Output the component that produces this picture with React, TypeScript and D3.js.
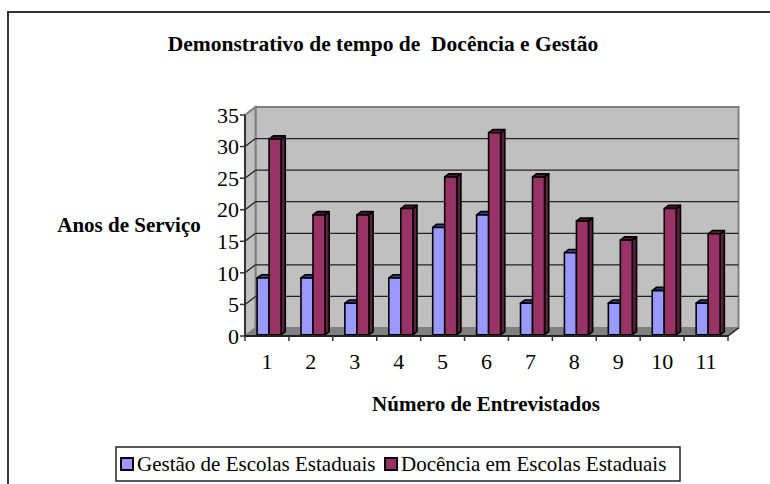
import React from "react";
import * as d3 from "d3";

const categories = ["1", "2", "3", "4", "5", "6", "7", "8", "9", "10", "11"];
const gestao = [9, 9, 5, 9, 17, 19, 5, 13, 5, 7, 5];
const docencia = [31, 19, 19, 20, 25, 32, 25, 18, 15, 20, 16];
const yTicks = [0, 5, 10, 15, 20, 25, 30, 35];
const seriesNames = ["Gestão de Escolas Estaduais", "Docência em Escolas Estaduais"];
const seriesColors = ["#9999FF", "#993366"];
const sideColors = ["#5c5c99", "#5c1f3d"];
const topColors = ["#404080", "#4d1a33"];

const FONT = "Liberation Serif, Times New Roman, serif";

export default function App() {
  const W = 770, H = 484;
  const x0 = 245, x1 = 728, yBottom = 336, yTop = 115;
  const DX = 10.5, DY = -8;
  const fFront = 0.15, fBack = 0.55;
  const ts = { fontFamily: FONT };

  const x = d3.scaleBand<string>().domain(categories).range([x0, x1]);
  const y = d3.scaleLinear().domain([0, 35]).range([yBottom, yTop]);
  const inner = d3.scaleBand<string>().domain(seriesNames).range([10.5, 34.5]);
  const values = [gestao, docencia];

  const bdx = (fBack - fFront) * DX, bdy = (fBack - fFront) * DY;
  const fx = fFront * DX, fy = fFront * DY;

  const bars: any[] = [];
  categories.forEach((c, i) => {
    seriesNames.forEach((s, k) => {
      const v = values[k][i];
      const bx = (x(c) as number) + (inner(s) as number) + fx;
      const bw = inner.bandwidth();
      const top = y(v) + fy;
      const bot = y(0) + fy;
      bars.push(
        <g key={`${i}-${k}`} stroke="#000" strokeWidth={1.6} strokeLinejoin="round">
          <polygon
            points={`${bx + bw},${top} ${bx + bw + bdx},${top + bdy} ${bx + bw + bdx},${bot + bdy} ${bx + bw},${bot}`}
            fill={sideColors[k]}
          />
          <polygon
            points={`${bx},${top} ${bx + bw},${top} ${bx + bw + bdx},${top + bdy} ${bx + bdx},${top + bdy}`}
            fill={topColors[k]}
          />
          <rect x={bx} y={top} width={bw} height={bot - top} fill={seriesColors[k]} />
        </g>
      );
    });
  });

  return (
    <svg width={W} height={H} style={{ position: "absolute", left: 0, top: 0, background: "#fff" }}>
      <path d={`M8,484 L8,12 L770,12`} fill="none" stroke="#333" strokeWidth={2} />
      <text x={383} y={51} textAnchor="middle" fontSize={21.5} fontWeight="bold" style={ts} xmlSpace="preserve">
        {"Demonstrativo de tempo de  Docência e Gestão"}
      </text>

      <rect x={x0 + DX} y={yTop + DY} width={x1 - x0} height={yBottom - yTop} fill="#C0C0C0" stroke="#808080" strokeWidth={2} />
      <polygon
        points={`${x0},${yTop} ${x0 + DX},${yTop + DY} ${x0 + DX},${yBottom + DY} ${x0},${yBottom}`}
        fill="#C0C0C0" stroke="#808080" strokeWidth={2}
      />
      <polygon
        points={`${x0},${yBottom} ${x1},${yBottom} ${x1 + DX},${yBottom + DY} ${x0 + DX},${yBottom + DY}`}
        fill="#808080" stroke="#808080" strokeWidth={1}
      />
      {yTicks.filter(t => t > 0 && t < 35).map(t => (
        <g key={t} stroke="#222" strokeWidth={1.3}>
          <line x1={x0 + DX} x2={x1 + DX} y1={y(t) + DY} y2={y(t) + DY} />
          <line x1={x0} x2={x0 + DX} y1={y(t)} y2={y(t) + DY} />
        </g>
      ))}

      {bars}

      <line x1={x0} x2={x0} y1={yTop} y2={yBottom} stroke="#333" strokeWidth={2} />
      {yTicks.map(t => (
        <g key={t}>
          <line x1={x0 - 5} x2={x0} y1={y(t)} y2={y(t)} stroke="#333" strokeWidth={1.5} />
          <text x={x0 - 6} y={y(t)} dy="0.35em" textAnchor="end" fontSize={22} style={ts}>{t}</text>
        </g>
      ))}
      <line x1={x0} x2={x1} y1={yBottom} y2={yBottom} stroke="#222" strokeWidth={2} />
      <line x1={x1} x2={x1 + DX} y1={yBottom} y2={yBottom + DY} stroke="#222" strokeWidth={1.5} />
      {categories.map((c) => (
        <g key={c}>
          <line x1={x(c) as number} x2={x(c) as number} y1={yBottom} y2={yBottom + 5} stroke="#333" strokeWidth={1.5} />
          <text x={(x(c) as number) + x.bandwidth() / 2} y={369} textAnchor="middle" fontSize={22} style={ts}>{c}</text>
        </g>
      ))}
      <line x1={x1} x2={x1} y1={yBottom} y2={yBottom + 5} stroke="#333" strokeWidth={1.5} />

      <text x={129} y={232} textAnchor="middle" fontSize={21} fontWeight="bold" style={ts}>Anos de Serviço</text>
      <text x={486} y={411} textAnchor="middle" fontSize={21} fontWeight="bold" style={ts}>Número de Entrevistados</text>

      <rect x={116} y={447} width={564} height={34} fill="#fff" stroke="#222" strokeWidth={1.5} />
      {seriesNames.map((s, k) => {
        const lx = k === 0 ? 121 : 385;
        return (
          <g key={s}>
            <rect x={lx} y={458} width={12} height={12} fill={seriesColors[k]} stroke="#000" strokeWidth={2} />
            <text x={lx + 16} y={471} fontSize={21} style={ts}>{s}</text>
          </g>
        );
      })}
    </svg>
  );
}
